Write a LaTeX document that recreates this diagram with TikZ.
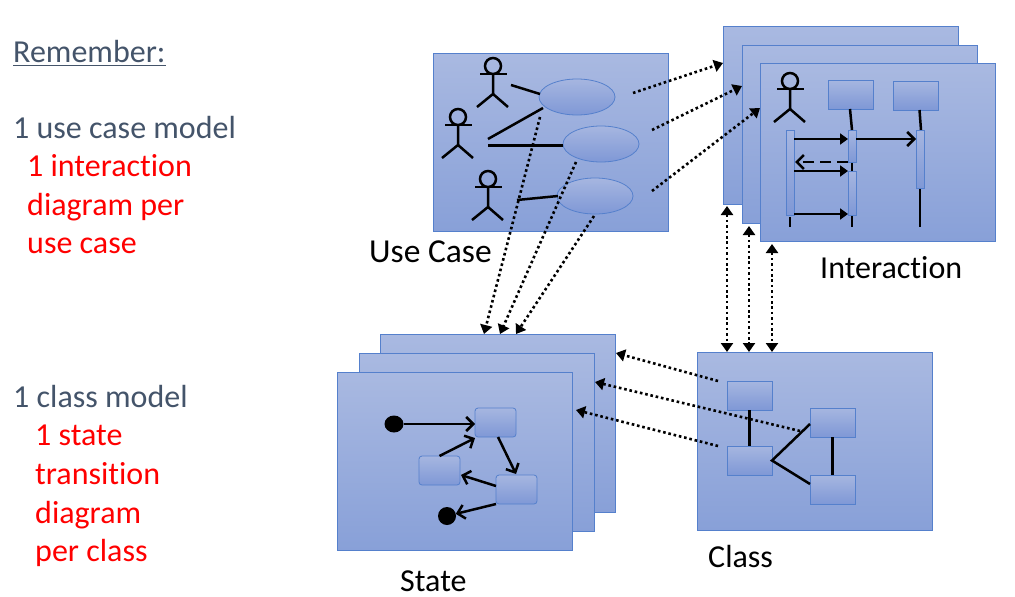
\documentclass[tikz,border=0pt]{standalone}
\usepackage{fontspec}
\setmainfont[Ligatures=NoCommon]{Carlito}
\usetikzlibrary{arrows.meta,positioning,calc,shapes.geometric}

\definecolor{slate}{HTML}{44546A}
\definecolor{umlline}{HTML}{5580CC}
\definecolor{paneltop}{HTML}{A9B9E1}
\definecolor{panelbot}{HTML}{88A0D8}
\definecolor{parttop}{HTML}{A6B6E0}
\definecolor{partbot}{HTML}{7F98D6}

\tikzset{
  panel/.style = {draw = umlline, line width = 1pt, top color = paneltop, bottom color = panelbot,
    minimum width = 235pt, minimum height = 178pt, inner sep = 0pt, outer sep = 0pt, anchor = north west},
  part/.style = {draw = umlline, line width = 0.8pt, top color = parttop, bottom color = partbot,
    inner sep = 0pt, outer sep = 0pt},
  classbox/.style = {part, minimum width = 45pt, minimum height = 29pt, anchor = north west},
  statebox/.style = {part, rounded corners = 3pt, minimum width = 41pt, minimum height = 29pt, anchor = north west},
  usecase/.style = {part, ellipse, minimum width = 76pt, minimum height = 36pt},
  bar/.style = {part, minimum width = 8.5pt, anchor = north west},
  dot/.style = {fill = black, circle, inner sep = 0pt, outer sep = 0pt},
  link/.style = {black, line width = 2.5pt},
  msg/.style = {link, -{Triangle[width = 11pt, length = 8pt]}},
  open/.style = {link, -{Straight Barb[width = 14pt, length = 7pt, line width = 2.5pt]}},
  dep/.style = {black, line width = 2.6pt, dash pattern = on 2.6pt off 2.8pt,
    -{Triangle[width = 12pt, length = 9pt]}},
  twoway/.style = {dep, {Triangle[width = 12pt, length = 9pt]}-{Triangle[width = 12pt, length = 9pt]}},
  note/.style = {anchor = base west, inner sep = 0pt, font = \fontsize{32}{34}\selectfont},
}

% stick figure: name, x of head, y of head
\newcommand{\stickman}[3]{
  \node[draw = black, line width = 2.5pt, circle, minimum size = 16pt, inner sep = 0pt, outer sep = 0pt] (#1) at (#2,#3) {};
  \draw[link] (#1.south) -- ++(0,20) coordinate (#1hip) -- ++(-16,13);
  \draw[link] (#1hip) -- ++(15,13);
  \draw[link] ($(#1)+(-13,8)$) -- ($(#1)+(14,8)$);
}

\begin{document}
\begin{tikzpicture}[x = 1pt, y = -1pt]
  \useasboundingbox (0,0) rectangle (1015,597);

  % text on the left
  \node[note, text = slate] (remember) at (13,62) {Remember:};
  \draw[slate, line width = 1.8pt] ($(remember.base west)+(0,3.5)$) -- ($(remember.base east)+(0,3.5)$);
  \node[note, text = slate] (ucmodel) at (13,138) {1 use case model};
  \node[note, text = red] (perone) at (27,176) {1 interaction};
  \node[note, text = red] (pertwo) at (27,215) {diagram per};
  \node[note, text = red] (perthree) at (27,253) {use case};
  \node[note, text = slate] (clsmodel) at (13,407) {1 class model};
  \node[note, text = red] (stateone) at (35,445) {1 state};
  \node[note, text = red] (statetwo) at (35,484) {transition};
  \node[note, text = red] (statethree) at (35,523) {diagram};
  \node[note, text = red] (statefour) at (35,561) {per class};

  % use case
  \node[panel] (ucpanel) at (433,53) {};
  \node[usecase] (uc1) at (577,97) {};
  \node[usecase] (uc2) at (601,144) {};
  \node[usecase] (uc3) at (595,196) {};
  \stickman{man1}{493}{66}
  \stickman{man2}{458}{117}
  \stickman{man3}{488}{179}
  \coordinate (man1r) at (511,85);
  \coordinate (man2r) at (488,139);
  \coordinate (man2s) at (488,145.5);
  \coordinate (man3r) at (517,200);
  \draw[link] (man1r) -- (540,94);
  \draw[link] (man2r) -- (543,108);
  \draw[link] (man2s) -- (uc2.west |- man2s);
  \draw[link] (man3r) -- (558,196);
  \node[note, text = black, font = \fontsize{33.5}{35}\selectfont] (uclabel) at (369,262) {Use Case};

  % interaction
  \node[panel] (seqback) at (723,26) {};
  \node[panel] (seqmid) at (742,45) {};
  \node[panel] (seqfront) at (760,63) {};
  \stickman{man4}{790}{81}
  \node[classbox] (life1) at (828,80) {};
  \node[classbox] (life2) at (893,81) {};
  \draw[link] (790,217) -- (790,227);
  \draw[link] (850,109) -- (852,130);
  \draw[link] (852,160) -- (852,227);
  \draw[link] (919.5,110) -- (921,130);
  \draw[link] (920,186) -- (920,227);
  \node[bar, minimum height = 85pt] (act1) at (786,130) {};
  \node[bar, minimum height = 32pt] (act2) at (848,130) {};
  \node[bar, minimum height = 44pt] (act3) at (848,171) {};
  \node[bar, minimum height = 58pt] (act4) at (916,130) {};
  \draw[msg] (794,139) -- (848,139);
  \draw[open] (856,139) -- (916,139);
  \draw[open, dash pattern = on 11pt off 6pt] (848,162) -- (795,162);
  \draw[msg] (794,171) -- (848,171);
  \draw[msg] (794,214) -- (848,214);
  \node[note, text = black] (seqlabel) at (820,278) {Interaction};

  % state
  \node[panel] (stback) at (380,334) {};
  \node[panel] (stmid) at (359,353) {};
  \node[panel] (stfront) at (337,372) {};
  \node[statebox] (st1) at (475,408) {};
  \node[statebox] (st2) at (419,456) {};
  \node[statebox] (st3) at (496,475) {};
  \node[dot, ellipse, minimum width = 19pt, minimum height = 17pt] (start) at (394,424) {};
  \node[dot, minimum size = 18pt] (stop) at (447,516) {};
  \coordinate (st1in) at (475,424);
  \draw[open] (start) -- (st1in);
  \draw[open] (st2.north) -- (475,438);
  \draw[open] (498,437) -- (516,474);
  \draw[open] (496,486) -- (461,475);
  \draw[open] (496,504) -- (stop);
  \node[note, text = black] (stlabel) at (400,591) {State};

  % class
  \node[panel] (clspanel) at (697,352) {};
  \node[classbox] (cls1) at (727,381) {};
  \node[classbox] (cls2) at (727,446) {};
  \node[classbox] (cls3) at (810,408) {};
  \node[classbox] (cls4) at (810,475) {};
  \draw[link] (cls1) -- (cls2);
  \draw[link] (cls3) -- (cls4);
  \coordinate (cls3in) at (810,424);
  \coordinate (cls4in) at (810,484);
  \draw[link] (cls3in) -- (cls2.east) -- (cls4in);
  \node[note, text = black] (clslabel) at (708,567) {Class};

  % from use case to interaction
  \draw[dep] (633,93) -- (seqback.west |- 0,63);
  \draw[dep] (652,130) -- (seqmid.west |- 0,86);
  \draw[dep] (652,191) -- (seqfront.west |- 0,108);

  % from use case to state
  \draw[dep] (540,117) -- (484,334);
  \draw[dep] (576,162) -- (500,334);
  \draw[dep] (594,216) -- (516,334);

  % between class and interaction
  \draw[twoway] (727,206) -- (727,352);
  \draw[twoway] (749,226) -- (749,352);
  \draw[twoway] (772,244) -- (772,352);

  % from class to state
  \draw[dep] (718,381) -- (616,353);
  \draw[dep] (800,431) -- (595,382);
  \draw[dep] (718,446) -- (576,410);
\end{tikzpicture}
\end{document}
